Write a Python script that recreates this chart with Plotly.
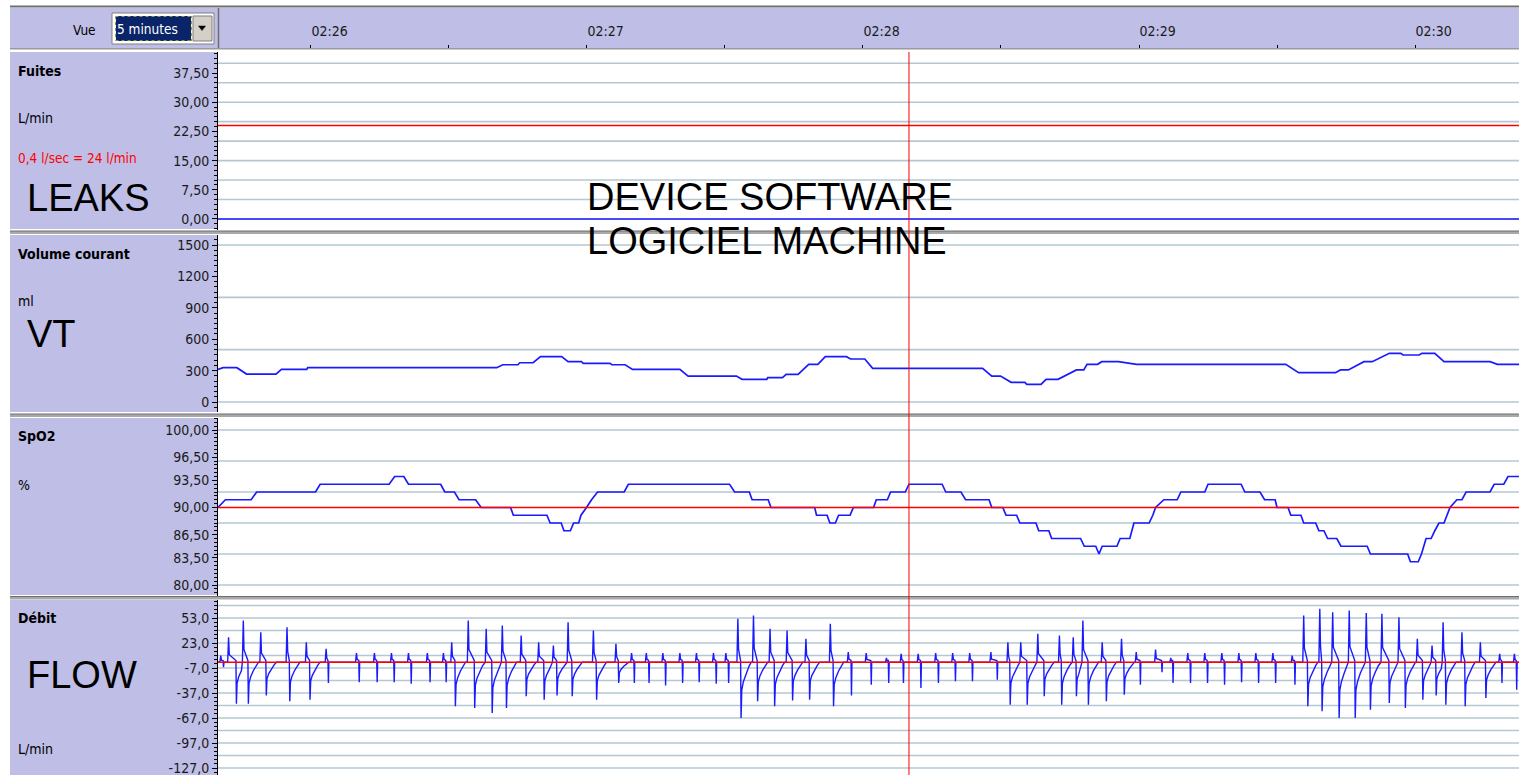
import plotly.graph_objects as go

W, H = 1519, 775

# ---- time axis: seconds after 02:25:00 ----
t_start, t_end = 39.8, 322.6
time_ticks = [60, 120, 180, 240, 300]
time_labels = ["02:26", "02:27", "02:28", "02:29", "02:30"]
cursor_t = 190.0

# ---- Fuites (leaks) ----
leak_t = [39.8, 322.6]
leak = [0.0, 0.0]
leak_limit = 24.0
leak_ticks = [0, 7.5, 15, 22.5, 30, 37.5]
leak_labels = ["0,00", "7,50", "15,00", "22,50", "30,00", "37,50"]
leak_grid = [0, 5, 10, 15, 20, 25, 30, 35, 40]

# ---- Volume courant (ml) ----
vt_t = [39.8, 40.9, 43.9, 46.0, 52.4, 53.6, 59.1, 59.3, 100.4, 101.7, 105.0, 105.4,
        108.3, 109.9, 114.5, 115.9, 118.8, 119.2, 125.0, 125.4, 128.3, 129.9, 140.2,
        142.0, 152.5, 153.7, 159.1, 159.3, 162.5, 163.3, 165.9, 168.2, 170.2, 171.8,
        176.4, 177.3, 180.4, 182.1, 206.0, 208.0, 209.9, 212.2, 215.2, 215.6, 218.7,
        219.8, 222.4, 226.4, 228.0, 228.7, 231.0, 231.9, 235.5, 239.5, 271.9, 274.7,
        282.7, 283.8, 285.5, 288.9, 290.7, 294.4, 296.9, 297.4, 300.9, 301.5, 304.3,
        306.3, 316.3, 317.9, 322.6]
vt = [312, 328, 328, 267, 267, 312, 312, 328, 328, 356, 356, 375,
      375, 433, 433, 385, 385, 370, 370, 356, 356, 312, 312,
      248, 248, 217, 217, 232, 232, 264, 264, 360, 360, 433,
      433, 411, 411, 322, 322, 248, 248, 188, 188, 169, 169,
      217, 217, 306, 306, 360, 360, 385, 385, 360, 360, 280,
      280, 306, 306, 385, 385, 465, 465, 449, 449, 465, 465,
      385, 385, 360, 360]
vt_ticks = [0, 300, 600, 900, 1200, 1500]
vt_labels = ["0", "300", "600", "900", "1200", "1500"]
vt_grid = [0, 500, 1000, 1500]

# ---- SpO2 (%) ----
spo2_t = [39.8, 41.4, 47.0, 48.2, 61.0, 62.0, 77.0, 78.2, 80.2, 81.2, 88.2, 89.1,
          91.2, 92.2, 95.8, 97.0, 103.4, 104.0, 111.3, 112.0, 114.4, 115.0, 116.4,
          117.1, 118.2, 118.7, 119.9, 121.0, 122.3, 128.1, 129.0, 151.0, 152.1,
          155.3, 155.9, 159.4, 160.0, 169.5, 169.9, 172.2, 172.8, 174.0, 174.7,
          177.2, 177.9, 182.3, 182.9, 185.3, 186.0, 189.2, 190.0, 197.2, 198.0,
          201.3, 202.3, 207.4, 208.0, 210.4, 211.1, 213.4, 214.1, 217.6, 218.2,
          220.4, 221.0, 227.3, 228.1, 230.6, 231.3, 232.0, 235.2, 235.9, 238.0,
          238.5, 238.9, 242.2, 243.0, 243.6, 245.4, 248.3, 249.1, 254.3, 255.0,
          262.2, 263.0, 266.3, 267.3, 269.6, 270.0, 272.4, 273.0, 275.2, 275.8,
          278.4, 279.1, 280.2, 281.0, 283.0, 283.9, 289.6, 290.3, 298.4, 299.0,
          300.7, 301.4, 302.4, 303.5, 304.3, 305.2, 306.3, 307.0, 307.6, 309.1,
          310.2, 311.1, 316.3, 317.2, 319.3, 320.2, 322.6]
spo2 = [90, 91, 91, 92, 92, 93, 93, 94, 94, 93, 93, 92,
        92, 91, 91, 90, 90, 89, 89, 88, 88, 87, 87,
        88, 88, 89, 90, 91, 92, 92, 93, 93, 92,
        92, 91, 91, 90, 90, 89, 89, 88, 88, 89,
        89, 90, 90, 91, 91, 92, 92, 93, 93, 92,
        92, 91, 91, 90, 90, 89, 89, 88, 88, 87,
        87, 86, 86, 85, 85, 84, 85, 85, 86, 86,
        87, 88, 88, 89, 90, 91, 91, 92, 92, 93,
        93, 92, 92, 91, 91, 90, 90, 89, 89, 88,
        88, 87, 87, 86, 86, 85, 85, 84, 84, 83,
        83, 84, 86, 86, 87, 88, 88, 89, 90, 91,
        91, 92, 92, 93, 93, 94, 94]
spo2_limit = 90.0
spo2_ticks = [80, 83.5, 86.5, 90, 93.5, 96.5, 100]
spo2_labels = ["80,00", "83,50", "86,50", "90,00", "93,50", "96,50", "100,00"]
spo2_grid = [80, 84, 88, 92, 96, 100]

# ---- Débit (L/min): one entry per breath ----
flow_peak_t = [40.4, 42.1, 45.3, 49.1, 54.8, 59.0, 63.3, 69.9, 73.8, 77.5, 81.2, 85.3, 88.8,
               90.6, 94.2, 98.1, 101.6, 105.7, 109.5, 112.7, 115.9, 121.4, 126.3,
               129.7, 132.9, 136.5, 140.2, 143.8, 147.5, 150.2,
               152.8, 156.2, 159.8, 163.5, 167.6, 172.9, 176.8, 180.7, 185.1, 188.3,
               192.0, 195.8, 199.5, 203.2,
               207.8, 211.5, 214.3, 218.0, 222.7, 225.7, 227.8, 232.0, 236.2, 239.4, 243.6, 246.9,
               250.6, 254.3, 258.0, 261.7, 265.4, 269.1, 273.3,
               275.8, 279.3, 282.1, 285.7, 289.4, 292.8, 296.5, 300.5, 303.7, 306.1, 310.2,
               314.2, 318.4, 321.6]
flow_peak = [8, 30, 50, 36, 42, 24, 16, 11, 11, 11, 11, 11, 11,
             24, 50, 40, 44, 32, 24, 20, 48, 38, 22,
             11, 11, 11, 11, 11, 11, 11,
             52, 56, 40, 38, 28, 46, 12, 11, 5, 10,
             10, 11, 11, 11,
             12, 24, 24, 34, 32, 30, 50, 24, 28, 12, 15, 5,
             11, 11, 11, 11, 11, 11, 8,
             56, 64, 60, 62, 59, 58, 54, 28, 20, 48, 36,
             24, 10, 10]
flow_trough_t = [41.0, 43.8, 46.4, 50.3, 55.4, 59.8, 63.8, 70.5, 74.4, 78.1, 81.8, 85.9, 89.4,
                 91.4, 95.6, 99.4, 102.5, 106.8, 110.7, 113.5, 116.8, 122.1, 126.9,
                 130.3, 133.5, 137.1, 140.8, 144.4, 148.1, 150.8,
                 153.5, 157.1, 160.8, 164.7, 168.4, 173.6, 177.5, 181.8, 185.6, 188.8,
                 192.6, 196.4, 200.1, 203.8,
                 209.2, 212.0, 215.7, 219.4, 223.2, 226.4, 229.0, 232.9, 236.8, 240.3, 245.0, 247.4,
                 251.2, 254.9, 258.6, 262.3, 266.0, 269.7, 273.9,
                 276.7, 279.8, 283.5, 287.0, 290.3, 294.4, 297.9, 301.7, 304.6, 306.7, 310.9,
                 315.4, 318.9, 322.1]
flow_trough = [-6, -50, -50, -40, -47, -45, -25, -24, -24, -24, -26, -24, -24,
               -53, -55, -61, -55, -41, -45, -40, -41, -45, -25,
               -25, -25, -28, -25, -24, -26, -25,
               -67, -47, -53, -46, -45, -53, -40, -27, -25, -25,
               -31, -25, -23, -23,
               -21, -51, -51, -41, -51, -41, -51, -47, -39, -27, -12, -25,
               -25, -25, -27, -24, -25, -25, -27,
               -53, -59, -67, -67, -57, -49, -55, -45, -40, -51, -53,
               -43, -25, -33]
flow_ticks = [-127, -97, -67, -37, -7, 23, 53]
flow_labels = ["-127,0", "-97,0", "-67,0", "-37,0", "-7,0", "23,0", "53,0"]
flow_grid = [-127, -112, -97, -82, -67, -52, -37, -22, -7, 8, 23, 38, 53, 68]

NARROW = "Liberation Sans Narrow, Arial Narrow, DejaVu Sans Condensed, sans-serif"
ARIAL = "Liberation Sans, Arial, sans-serif"
LAV = "#bebee6"
GRID = "#b4c7d2"
BLUE = "#1a1aff"
RED = "#ff0000"


def px(x):
    return x / W


def py(y):
    return 1 - y / H


def flow_wave():
    # each breath: sharp inspiratory spike, then expiratory needle and recovery
    xs, ys = [t_start], [0]
    n = len(flow_peak_t)
    for i in range(n):
        pt, pk = flow_peak_t[i], flow_peak[i]
        tt, tr = flow_trough_t[i], flow_trough[i]
        nxt = flow_peak_t[i + 1] - 0.3 if i + 1 < n else t_end
        pts = [(pt - 0.2, 0), (pt, pk), (pt + 0.15, pk * 0.3), (tt - 0.1, 2), (tt, tr)]
        if pk >= 20:
            pts += [(tt + 0.15, tr * 0.5), (tt + 0.5, tr * 0.35), (tt + 1.1, tr * 0.2),
                    (tt + 1.7, tr * 0.08), (tt + 2.2, 0)]
        else:
            pts += [(tt + 0.1, 0)]
        for x, y in pts:
            if xs[-1] < x < nxt or (x == pt):
                xs.append(x)
                ys.append(y)
    xs.append(t_end)
    ys.append(0)
    return xs, ys


fig = go.Figure()

line_blue = dict(color=BLUE, width=1.7)
line_red = dict(color=RED, width=1.5)

fig.add_trace(go.Scatter(x=leak_t, y=leak, mode="lines", line=line_blue, xaxis="x", yaxis="y"))
fig.add_trace(go.Scatter(x=[t_start, t_end], y=[leak_limit, leak_limit], mode="lines",
                         line=line_red, xaxis="x", yaxis="y"))
fig.add_trace(go.Scatter(x=vt_t, y=vt, mode="lines", line=line_blue, xaxis="x", yaxis="y2"))
fig.add_trace(go.Scatter(x=spo2_t, y=spo2, mode="lines", line=line_blue, xaxis="x", yaxis="y3"))
fig.add_trace(go.Scatter(x=[t_start, t_end], y=[spo2_limit, spo2_limit], mode="lines",
                         line=line_red, xaxis="x", yaxis="y3"))
fx, fy = flow_wave()
fig.add_trace(go.Scatter(x=fx, y=fy, mode="lines", line=dict(color=BLUE, width=1.4),
                         xaxis="x", yaxis="y4"))
fig.add_trace(go.Scatter(x=[t_start, t_end], y=[0, 0], mode="lines",
                         line=line_red, xaxis="x", yaxis="y4"))
fig.update_traces(showlegend=False, hoverinfo="skip")


def yax(top, bottom, rng, vals, text, minor_dtick, minor_tick0):
    return dict(
        domain=[py(bottom), py(top)], range=rng, anchor="x",
        tickmode="array", tickvals=vals, ticktext=text,
        ticks="outside", ticklen=5, tickcolor="black", tickwidth=1,
        showline=True, linecolor="black", linewidth=1,
        showgrid=False, zeroline=False, ticklabeloverflow="allow",
        tickfont=dict(family=NARROW, size=14, color="#1a1a1a"),
        minor=dict(ticks="outside", ticklen=3, tickcolor="black", tickwidth=1,
                   dtick=minor_dtick, tick0=minor_tick0, showgrid=False),
    )


shapes = []


def rect(x0, y0, x1, y1, fill, line=None, width=0, dash=None, layer="below"):
    ln = dict(width=width, color=line or fill)
    if dash:
        ln["dash"] = dash
    shapes.append(dict(type="rect", xref="paper", yref="paper",
                       x0=px(x0), x1=px(x1), y0=py(y1), y1=py(y0),
                       fillcolor=fill, line=ln, layer=layer))


def hline(x0, x1, y, color, width, layer="above"):
    shapes.append(dict(type="line", xref="paper", yref="paper",
                       x0=px(x0), x1=px(x1), y0=py(y), y1=py(y),
                       line=dict(color=color, width=width), layer=layer))


# header band
hline(10, W, 6.5, "#6e6e6e", 2)
rect(10, 8, W, 48, LAV)
hline(10, W, 48.8, "#9a9a9a", 1.5)
shapes.append(dict(type="line", xref="paper", yref="paper", x0=px(218.5), x1=px(218.5),
                   y0=py(48), y1=py(8), line=dict(color="#6e6e6e", width=1.5)))
# dropdown "5 minutes"
rect(112, 13, 214, 44, "white", "#808080", 1, layer="above")
rect(115.5, 16, 191.5, 41, "#0a246a", layer="above")
rect(115.5, 16, 191.5, 41, "rgba(0,0,0,0)", "#ffff80", 1, dash="dot", layer="above")
rect(193, 16, 212, 41, "#d4d0c8", "#808080", 1, layer="above")
shapes.append(dict(type="path", xref="paper", yref="paper", layer="above",
                   path=f"M {px(198.5)},{py(26)} L {px(205.5)},{py(26)} L {px(202)},{py(30.5)} Z",
                   fillcolor="black", line=dict(color="black", width=0.5)))

# left label panels
for top, bottom in [(52, 229), (235, 412), (418, 595), (600, 775)]:
    rect(10, top, 218, bottom, LAV)
# panel separators
for y in [232.5, 415.5, 598]:
    hline(10, W, y, "#a9a9a9", 3)
    hline(10, W, y - 1.5, "#6e6e6e", 1)

# horizontal grid lines
for yref, grid in [("y", leak_grid), ("y2", vt_grid), ("y3", spo2_grid), ("y4", flow_grid)]:
    for v in grid:
        shapes.append(dict(type="line", xref="x domain", x0=0, x1=1, yref=yref, y0=v, y1=v,
                           line=dict(color=GRID, width=1.6), layer="below"))

# cursor
shapes.append(dict(type="line", xref="x", x0=cursor_t, x1=cursor_t, yref="paper",
                   y0=0, y1=py(52), line=dict(color=RED, width=1), layer="above"))


def note(x, y, text, size, color="black", family=NARROW):
    return dict(x=px(x), y=py(y), xref="paper", yref="paper", text=text, showarrow=False,
                xanchor="left", yanchor="middle", font=dict(family=family, size=size, color=color))


annotations = [
    note(71, 30, "Vue", 13.5),
    note(115, 29, "5 minutes", 13.5, "white"),
    note(16, 71, "<b>Fuites</b>", 14),
    note(16, 118, "L/min", 14),
    note(16, 158, "0,4 l/sec = 24 l/min", 13.5, RED),
    note(25, 198, "LEAKS", 38, family=ARIAL),
    note(16, 254, "<b>Volume courant</b>", 14),
    note(16, 301, "ml", 14),
    note(25, 334, "VT", 38, family=ARIAL),
    note(16, 436, "<b>SpO2</b>", 14),
    note(16, 485, "%", 14),
    note(16, 618, "<b>Débit</b>", 14),
    note(25, 675, "FLOW", 38, family=ARIAL),
    note(16, 749, "L/min", 14),
    note(585, 197, "DEVICE SOFTWARE", 38, family=ARIAL),
    note(585, 241, "LOGICIEL MACHINE", 38, family=ARIAL),
]

fig.update_layout(
    width=W, height=H,
    margin=dict(l=0, r=0, t=0, b=0),
    paper_bgcolor="white", plot_bgcolor="white",
    showlegend=False,
    xaxis=dict(
        domain=[px(218), 1], range=[t_start, t_end], anchor="free", position=py(48.5),
        side="top", tickmode="array", tickvals=time_ticks, ticktext=time_labels,
        ticks="outside", ticklen=4, tickcolor="black", ticklabelposition="outside right",
        ticklabelstandoff=7,
        tickfont=dict(family=NARROW, size=14, color="#1a1a1a"),
        showgrid=False, zeroline=False, showline=False,
        minor=dict(ticks="outside", ticklen=4, tickcolor="black", dtick=30, tick0=0),
    ),
    yaxis=yax(52, 230, [-2.83, 42.9], leak_ticks, leak_labels, 1.25, 0),
    yaxis2=yax(235, 412, [-95.5, 1595.5], vt_ticks, vt_labels, 50, 0),
    yaxis3=yax(418, 596, [78.58, 101.55], spo2_ticks, spo2_labels, 0.5, 0),
    yaxis4=yax(600, 775, [-135.4, 74.6], flow_ticks, flow_labels, 5, -127),
    shapes=shapes,
    annotations=annotations,
)

fig.write_html("out.html", config={"displayModeBar": False},
               post_script="document.body.style.margin='0';document.body.style.overflow='hidden';")
